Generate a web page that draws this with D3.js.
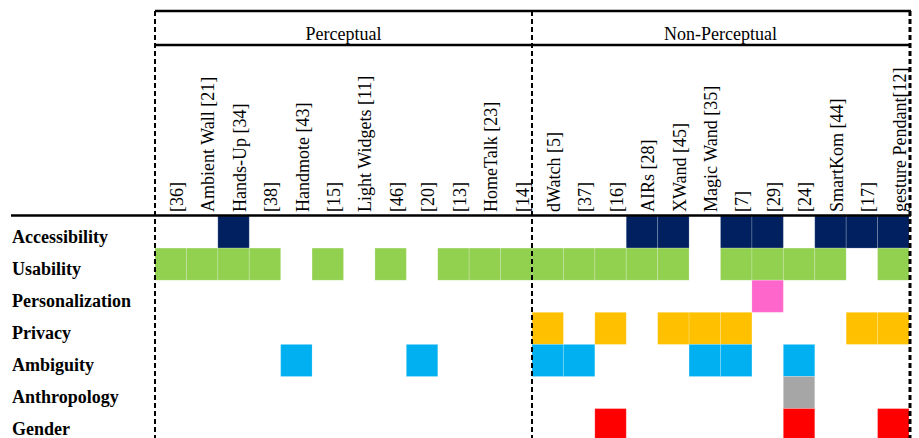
<!DOCTYPE html>
<html>
<head>
<meta charset="utf-8">
<script src="https://cdn.jsdelivr.net/npm/d3@7"></script>
<style>
  body { margin: 0; background: #fff; }
  svg { display: block; font-family: "Liberation Serif", "Times New Roman", serif; }
</style>
</head>
<body>
<div class="svg-container"></div>
<script>
// column groups
var groups = ['Perceptual', 'Non-Perceptual'];
var perceptual = ['[36]', 'Ambient Wall [21]', 'Hands-Up [34]', '[38]', 'Handmote [43]', '[15]',
  'Light Widgets [11]', '[46]', '[20]', '[13]', 'HomeTalk [23]', '[14]'];
var nonPerceptual = ['dWatch [5]', '[37]', '[16]', 'AIRs [28]', 'XWand [45]', 'Magic Wand [35]',
  '[7]', '[29]', '[24]', 'SmartKom [44]', '[17]', 'gesture Pendant[12]'];

var rowLabels = ['Accessibility', 'Usability', 'Personalization', 'Privacy', 'Ambiguity', 'Anthropology', 'Gender'];
var rowColors = ['#002060', '#92d050', '#ff66cc', '#ffc000', '#00b0f0', '#a6a6a6', '#ff0000'];

// 1 = covered, one flag per column (perceptual first, then non-perceptual)
var accessibility   = [0,0,1,0,0,0,0,0,0,0,0,0,  0,0,0,1,1,0,1,1,0,1,1,1];
var usability       = [1,1,1,1,0,1,0,1,0,1,1,1,  1,1,1,1,1,0,1,1,1,1,0,1];
var personalization = [0,0,0,0,0,0,0,0,0,0,0,0,  0,0,0,0,0,0,0,1,0,0,0,0];
var privacy         = [0,0,0,0,0,0,0,0,0,0,0,0,  1,0,1,0,1,1,1,0,0,0,1,1];
var ambiguity       = [0,0,0,0,1,0,0,0,1,0,0,0,  1,1,0,0,0,1,1,0,1,0,0,0];
var anthropology    = [0,0,0,0,0,0,0,0,0,0,0,0,  0,0,0,0,0,0,0,0,1,0,0,0];
var gender          = [0,0,0,0,0,0,0,0,0,0,0,0,  0,0,1,0,0,0,0,0,1,0,0,1];

var rowFlags = [accessibility, usability, personalization, privacy, ambiguity, anthropology, gender];

var chart = {
  width: 919,
  height: 438,
  left: 155,
  right: 909,
  top: 11,
  midLine: 45,
  headerBottom: 216,
  rowHeight: 32.1,
  fontSize: 18
};

var columns = perceptual.concat(nonPerceptual);

var x = d3.scaleBand().domain(columns).range([chart.left, chart.right]).padding(0);
var y = d3.scaleBand().domain(rowLabels)
  .range([chart.headerBottom, chart.headerBottom + chart.rowHeight * rowLabels.length]).padding(0);
var color = d3.scaleOrdinal().domain(rowLabels).range(rowColors);

var svg = d3.select('.svg-container').append('svg')
  .attr('width', chart.width)
  .attr('height', chart.height);

// cells
var cells = [];
rowLabels.forEach(function(r, i) {
  rowFlags[i].forEach(function(f, j) {
    if (f) cells.push({row: r, col: columns[j]});
  });
});

svg.append('g').selectAll('rect')
  .data(cells)
  .enter().append('rect')
  .attr('x', function(d) { return x(d.col); })
  .attr('y', function(d) { return y(d.row); })
  .attr('width', x.bandwidth())
  .attr('height', y.bandwidth())
  .style('fill', function(d) { return color(d.row); })
  .style('stroke', '#fff')
  .style('stroke-opacity', 0.18)
  .style('stroke-width', 1);

// row labels
svg.append('g').selectAll('text')
  .data(rowLabels)
  .enter().append('text')
  .attr('x', 12)
  .attr('y', function(d) { return y(d) + 26.5; })
  .style('font-weight', 'bold')
  .style('font-size', chart.fontSize + 'px')
  .text(function(d) { return d; });

// column labels (rotated)
svg.append('g').selectAll('text')
  .data(columns)
  .enter().append('text')
  .attr('transform', function(d) {
    return 'translate(' + (x(d) + x.bandwidth() - 3.5) + ',212) rotate(-90)';
  })
  .style('font-size', chart.fontSize + 'px')
  .text(function(d) { return d; });

// group titles
var groupCols = [perceptual, nonPerceptual];
svg.append('g').selectAll('text')
  .data(groups)
  .enter().append('text')
  .attr('x', function(d, i) {
    var c = groupCols[i];
    return (x(c[0]) + x(c[c.length - 1]) + x.bandwidth()) / 2;
  })
  .attr('y', 40)
  .attr('text-anchor', 'middle')
  .style('font-size', chart.fontSize + 'px')
  .text(function(d) { return d; });

// horizontal rules
svg.append('line')
  .attr('x1', chart.left).attr('x2', chart.right + 2)
  .attr('y1', chart.top).attr('y2', chart.top)
  .style('stroke', '#000').style('stroke-width', 2.5);
svg.append('line')
  .attr('x1', chart.left).attr('x2', chart.right + 2)
  .attr('y1', chart.midLine).attr('y2', chart.midLine)
  .style('stroke', '#000').style('stroke-width', 2.5);
svg.append('line')
  .attr('x1', 11).attr('x2', chart.right + 2)
  .attr('y1', chart.headerBottom - 0.5).attr('y2', chart.headerBottom - 0.5)
  .style('stroke', '#000').style('stroke-width', 2.5);

// dashed verticals
var splits = [chart.left, x(nonPerceptual[0]), chart.right + 1];
svg.append('g').selectAll('line')
  .data(splits)
  .enter().append('line')
  .attr('x1', function(d) { return d; })
  .attr('x2', function(d) { return d; })
  .attr('y1', chart.top)
  .attr('y2', chart.height)
  .style('stroke', '#000')
  .style('stroke-width', function(d, i) { return i === 2 ? 3 : 2; })
  .style('stroke-dasharray', '5,3');
</script>
</body>
</html>
